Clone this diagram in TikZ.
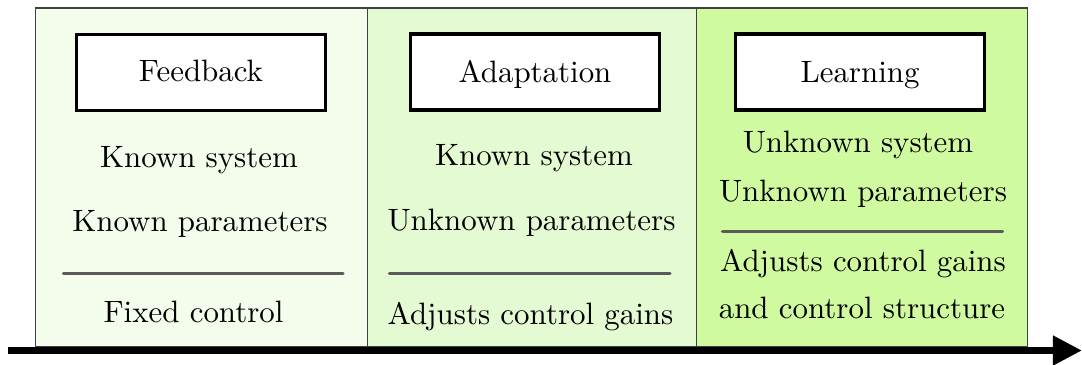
\documentclass[tikz,border=0pt]{standalone}
\usetikzlibrary{arrows.meta}
\newcommand{\pxu}{0.3236pt}
\definecolor{stageA}{HTML}{F4FDEB}
\definecolor{stageB}{HTML}{E4FAD2}
\definecolor{stageC}{HTML}{CFFA9F}
\definecolor{rulegray}{HTML}{5A5A5A}
\tikzset{
  panel/.style={draw=black!75, line width=0.35pt, inner sep=0pt},
  titlebox/.style={draw=black, line width=1.15pt, fill=white, inner sep=0pt,
    minimum width=249*\pxu, minimum height=76*\pxu},
  txt/.style={anchor=base, inner sep=0pt},
  sepline/.style={draw=rulegray, line width=1pt, line cap=round},
  timeline/.style={draw=black, line width=2.4pt, -{Triangle[length=9.4pt,width=9.1pt]}}
}
\begin{document}
\begin{tikzpicture}[x=\pxu, y=-\pxu]
\useasboundingbox (0,0) rectangle (1082,365);

% three stage panels
\node[panel, fill=stageA, minimum width=332.5*\pxu, minimum height=339*\pxu] (p1) at (201.5,177.5) {};
\node[panel, fill=stageB, minimum width=328.5*\pxu, minimum height=339*\pxu] (p2) at (532,177.5) {};
\node[panel, fill=stageC, minimum width=331.5*\pxu, minimum height=339*\pxu] (p3) at (862,177.5) {};

% stage titles
\node[titlebox] (t1) at (201,72.5) {};
\node[txt] (t1l) at (201,81.7) {Feedback};
\node[titlebox] (t2) at (535,72) {};
\node[txt] (t2l) at (535,82.7) {Adaptation};
\node[titlebox] (t3) at (860,72) {};
\node[txt] (t3l) at (860,82.7) {Learning};

% feedback
\node[txt] (a1) at (199,167.5) {Known system};
\node[txt] (a2) at (200,231) {Known parameters};
\coordinate (s1a) at (63.5,273.5);
\coordinate (s1b) at (343,273.5);
\draw[sepline] (s1a) -- (s1b);
\node[txt] (a3) at (193.5,322.7) {Fixed control};

% adaptation
\node[txt] (b1) at (534,165.7) {Known system};
\node[txt] (b2) at (531.5,230) {Unknown parameters};
\coordinate (s2a) at (389.5,273.3);
\coordinate (s2b) at (670,273.3);
\draw[sepline] (s2a) -- (s2b);
\node[txt] (b3) at (530.5,324.3) {Adjusts control gains};

% learning
\node[txt] (c1) at (858,152.7) {Unknown system};
\node[txt] (c2) at (863,201.7) {Unknown parameters};
\coordinate (s3a) at (722.5,231.3);
\coordinate (s3b) at (1002.5,231.3);
\draw[sepline] (s3a) -- (s3b);
\node[txt] (c3) at (863,271.7) {Adjusts control gains};
\node[txt] (c4) at (862,318.3) {and control structure};

% time axis
\coordinate (ts) at (8,350.5);
\coordinate (te) at (1082,350.5);
\draw[timeline] (ts) -- (te);
\end{tikzpicture}
\end{document}
